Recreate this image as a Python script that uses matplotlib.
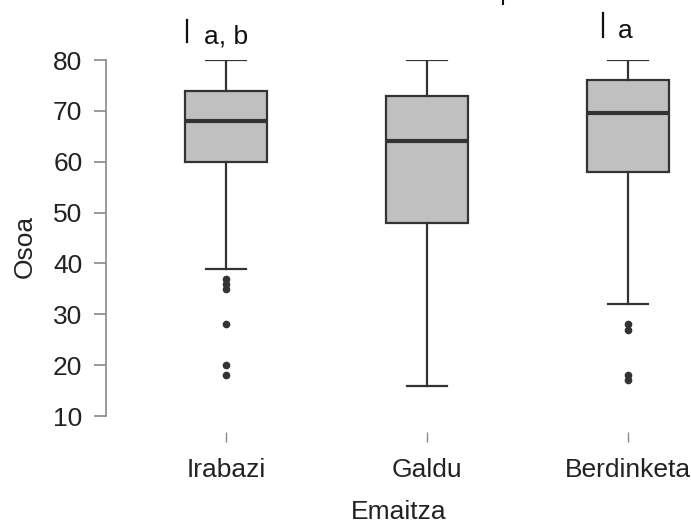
import matplotlib.pyplot as plt
from matplotlib.lines import Line2D

plt.rcParams['font.family'] = ['Liberation Sans', 'DejaVu Sans']

groups = ['Irabazi', 'Galdu', 'Berdinketa']
whislo = [39, 16, 32]
q1 = [60, 48, 58]
med = [68, 64, 69.5]
q3 = [74, 73, 76]
whishi = [80, 80, 80]
fliers = [[37, 36, 35, 28, 20, 18], [], [28, 27, 18, 17]]
letters = ['a, b', '', 'a']

fig = plt.figure(figsize=(6.91, 5.25), dpi=100)
W, H = 691, 525
ax = fig.add_axes([106 / W, 1 - 432 / H, 1 - 106 / W, (432 - 60) / H])

stats = []
for i, g in enumerate(groups):
    stats.append(dict(label=g, whislo=whislo[i], q1=q1[i], med=med[i],
                      q3=q3[i], whishi=whishi[i], fliers=fliers[i]))

edge = '#333333'
pos = [1, 2, 3]
ax.bxp(stats, positions=pos, widths=0.41, capwidths=0.2, patch_artist=True,
       boxprops=dict(facecolor='#c0c0c0', edgecolor=edge, linewidth=1.6),
       medianprops=dict(color=edge, linewidth=3),
       whiskerprops=dict(color=edge, linewidth=1.6),
       capprops=dict(color=edge, linewidth=1.6),
       flierprops=dict(marker='o', markerfacecolor=edge, markeredgecolor=edge,
                       markersize=4.5))

ax.set_xlim(1 - 120 / 201, 3 + 63 / 201)
ax.set_ylim(80 - 372 / 50.86 * 10, 80)
ax.set_yticks(range(10, 81, 10))
for s in ['top', 'right', 'bottom']:
    ax.spines[s].set_visible(False)
ax.spines['left'].set_bounds(10, 80)
ax.spines['left'].set_color('#888888')
ax.spines['left'].set_linewidth(1.2)
fs = 19
ax.tick_params(axis='y', length=9, width=1.2, color='#888888', pad=8,
               labelsize=fs, labelcolor='#222222')
ax.tick_params(axis='x', length=7, width=1.0, color='#888888', pad=12,
               labelsize=fs, labelcolor='#222222')
ax.set_xticks(pos)
ax.set_xticklabels(groups)
ax.set_xlabel('Emaitza', fontsize=fs, color='#222222', labelpad=13)
ax.set_ylabel('Osoa', fontsize=fs, color='#222222', labelpad=12)

# significance letters above boxes (bar x, text x, bar top, baseline)
ann = [(1, -0.194, -0.11, 87.9, 83.3), (3, -0.124, -0.05, 89.2, 84.3)]
for (p, bx, tx, ytop, ybase), lab in zip(ann, [letters[0], letters[2]]):
    ax.add_line(Line2D([p + bx, p + bx], [ytop, ybase + 0.2], color='#111111',
                       linewidth=1.6, clip_on=False))
    ax.text(p + tx, ybase, lab, fontsize=fs, color='#111111', ha='left',
            va='baseline', clip_on=False)
ax.add_line(Line2D([2.378, 2.378], [92, 91.0], color='#111111',
                   linewidth=1.5, clip_on=False))

fig.savefig('out.png', dpi=100)
